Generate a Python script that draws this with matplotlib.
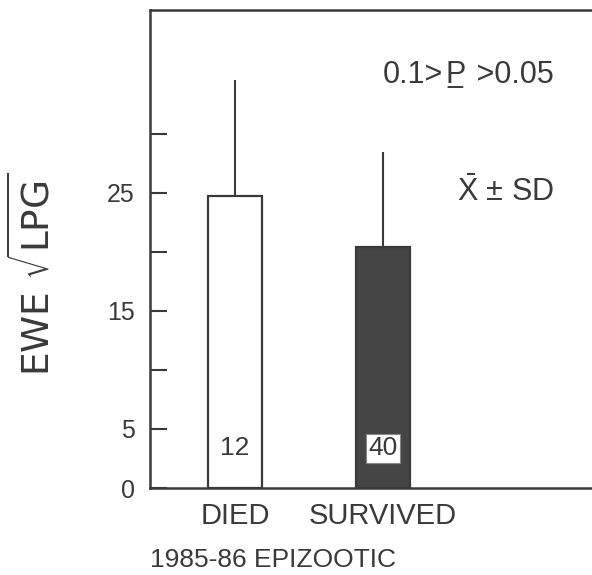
import matplotlib
import matplotlib.pyplot as plt

matplotlib.use('Agg')

plt.rcParams['font.family'] = ['Liberation Sans', 'DejaVu Sans']
plt.rcParams['mathtext.fontset'] = 'custom'
plt.rcParams['mathtext.rm'] = 'Liberation Sans'

groups = ['DIED', 'SURVIVED']
means = [24.7, 20.4]
sds = [9.9, 8.1]
counts = ['12', '40']
fills = ['white', '#454545']
major_ticks = [0, 5, 15, 25]
minor_ticks = [10, 20, 30]

ink = '#3a3a3a'

fig = plt.figure(figsize=(5.92, 5.75), dpi=100)
ax = fig.add_axes([150 / 592, 87 / 575, 442 / 592, 478 / 575])

x = list(range(len(groups)))
ax.bar(x, means, width=0.365, color=fills, edgecolor=ink, linewidth=1.6,
       zorder=2)
ax.errorbar(x, means, yerr=[[0] * len(sds), sds], fmt='none', ecolor=ink,
            elinewidth=1.5, capsize=0, zorder=1)

for xi, c, f in zip(x, counts, fills):
    box = None
    if f != 'white':
        box = dict(boxstyle='square,pad=0.1', facecolor='white',
                   edgecolor='#888888', linewidth=0.8)
    ax.text(xi, 3.35, c, ha='center', va='center', fontsize=19, color=ink,
            bbox=box, zorder=3)

ax.set_xlim(-0.574, 2.41)
ax.set_ylim(0, 40.5)
ax.set_yticks(major_ticks)
ax.set_yticks(minor_ticks, minor=True)
ax.tick_params(axis='y', which='both', direction='in', length=12, width=1.5,
               colors=ink, labelsize=18, pad=11)
ax.set_xticks(x, groups)
ax.tick_params(axis='x', length=0, labelsize=21, colors=ink, pad=10)

for side in ['left', 'bottom', 'top']:
    ax.spines[side].set_linewidth(1.8)
    ax.spines[side].set_color(ink)
ax.spines['right'].set_visible(False)

ax.set_ylabel(r'$\mathrm{EWE}\ \sqrt{\mathrm{LPG}}$', fontsize=27, color=ink,
              math_fontfamily='dejavusans')
ax.yaxis.set_label_coords(-0.21, 0.446)

# p-value note, with the P underlined
t1 = ax.text(0.527, 0.864, '0.1>', transform=ax.transAxes,
             fontsize=22, color=ink, ha='left', va='center')
t2 = ax.annotate('P', xy=(1, 0), xycoords=t1, xytext=(1.5, 0),
                 textcoords='offset points', fontsize=22, color=ink,
                 ha='left', va='bottom')
ax.annotate('', xy=(0.85, 0.1), xycoords=t2, xytext=(0.15, 0.1),
            textcoords=t2,
            arrowprops=dict(arrowstyle='-', lw=1.4, color=ink,
                            shrinkA=0, shrinkB=0))
ax.annotate(' >0.05', xy=(1, 0), xycoords=t2, xytext=(1.5, 0),
            textcoords='offset points', fontsize=22, color=ink,
            ha='left', va='bottom')

ax.text(0.695, 0.62, r'$\bar{\mathrm{X}}$ $\pm$ SD', transform=ax.transAxes,
        fontsize=22, color=ink, ha='left', va='center')

fig.text(150 / 592, 15 / 575, '1985-86 EPIZOOTIC', fontsize=19,
         color=ink, ha='left', va='center')

fig.savefig('out.png', dpi=100)
